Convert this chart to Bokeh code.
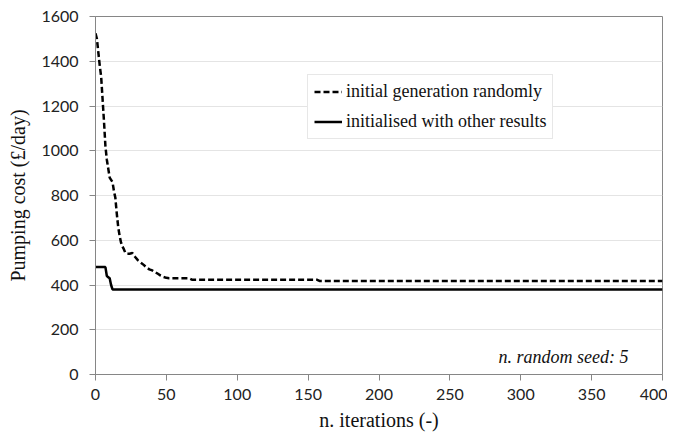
from bokeh.plotting import figure
from bokeh.models import Range1d, Legend, LegendItem, Label, FixedTicker
from bokeh.embed import file_html
from bokeh.resources import INLINE

# Data
iter_random = [0, 1, 2, 3, 4, 5, 6, 7, 8, 9, 10, 11, 12, 13, 14, 15, 16, 17, 18, 19,
               20, 21, 22, 24, 26, 28, 30, 32, 34, 36, 38, 40, 42, 44, 46, 48, 50, 52,
               66, 68, 156, 158, 400]
cost_random = [1525, 1500, 1440, 1380, 1330, 1230, 1130, 1020, 960, 920, 880, 870, 860,
               820, 790, 720, 660, 620, 590, 572, 560, 545, 540, 540, 543, 525, 510, 500,
               490, 478, 470, 465, 458, 450, 442, 436, 432, 430, 430, 424, 424, 418, 418]

iter_init = [0, 7, 8, 9, 10, 11, 12, 400]
cost_init = [480, 480, 440, 435, 430, 400, 380, 380]

x_ticks = [0, 50, 100, 150, 200, 250, 300, 350, 400]
y_ticks = [0, 200, 400, 600, 800, 1000, 1200, 1400, 1600]

label_random = "initial generation randomly"
label_init = "initialised with other results"
note_text = "n. random seed: 5"
x_title = "n. iterations (-)"
y_title = "Pumping cost (\u00a3/day)"

GRAY = "#868686"
SERIF = "Times"

p = figure(width=667, height=433, output_backend="svg", toolbar_location=None,
           x_range=Range1d(0, 400), y_range=Range1d(0, 1600),
           min_border_left=95, min_border_right=5, min_border_top=16, min_border_bottom=53)
p.background_fill_color = "white"
p.border_fill_color = "white"
p.outline_line_color = GRAY
p.outline_line_width = 1

p.xgrid.grid_line_color = None
p.ygrid.grid_line_color = "#e4e4e4"
p.ygrid.grid_line_width = 1

for ax in (p.xaxis[0], p.yaxis[0]):
    ax.axis_line_color = GRAY
    ax.major_tick_line_color = GRAY
    ax.minor_tick_line_color = None
    ax.major_tick_out = 6
    ax.major_tick_in = 0
    ax.major_label_text_font = "Lato"
    ax.major_label_text_font_size = "16px"
    ax.major_label_text_color = "#222222"
    ax.axis_label_text_font = SERIF
    ax.axis_label_text_font_size = "20px"
    ax.axis_label_text_font_style = "normal"
    ax.axis_label_text_color = "#111111"

p.xaxis.ticker = FixedTicker(ticks=x_ticks)
p.yaxis.ticker = FixedTicker(ticks=y_ticks)
p.xaxis.major_label_standoff = 8
p.yaxis.major_label_standoff = 11
p.xaxis.axis_label = x_title
p.yaxis.axis_label = y_title
p.xaxis.axis_label_standoff = 6
p.yaxis.axis_label_standoff = 9

r1 = p.line(iter_random, cost_random, line_color="black", line_width=2.5, line_dash="6 3")
r2 = p.line(iter_init, cost_init, line_color="black", line_width=2.5)

legend = Legend(items=[LegendItem(label=label_random, renderers=[r1]),
                       LegendItem(label=label_init, renderers=[r2])],
                location=(212, 235))
legend.label_text_font = SERIF
legend.label_text_font_size = "18px"
legend.label_text_color = "#111111"
legend.glyph_width = 28
legend.glyph_height = 21
legend.label_height = 21
legend.label_standoff = 4
legend.spacing = 9
legend.padding = 6
legend.border_line_color = "#d0d0d0"
legend.border_line_width = 1
legend.background_fill_alpha = 1
legend.margin = 0
p.add_layout(legend)

note = Label(x=376, y=78, text=note_text, text_align="right", text_baseline="alphabetic",
             text_font=SERIF, text_font_style="italic", text_font_size="18px",
             text_color="#111111")
p.add_layout(note)

open("out.html", "w").write(file_html(p, INLINE))
